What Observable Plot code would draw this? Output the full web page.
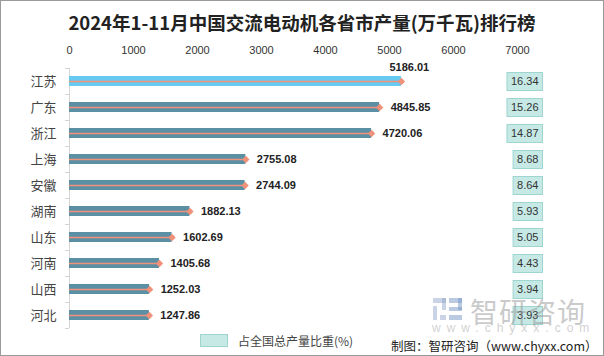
<!DOCTYPE html>
<html>
<head>
<meta charset="utf-8">
<script src="https://cdn.jsdelivr.net/npm/d3@7"></script>
<script src="https://cdn.jsdelivr.net/npm/@observablehq/plot@0.6"></script>
<style>
  html, body { margin: 0; padding: 0; background: #fff; }
  #wrap { position: relative; width: 604px; height: 356px; overflow: hidden; background: #fff; }
  #wrap svg { position: absolute; left: 0; top: 0; }
  .ov { position: absolute; white-space: nowrap; }
  #title { left: 0; width: 604px; top: 9px; text-align: center; font: bold 18.5px "Noto Sans CJK SC", sans-serif; color: #222; }
  #legend { left: 200px; top: 332px; font: 12px "Noto Sans CJK SC", sans-serif; color: #444; display: flex; align-items: center; }
  #legend .sw { width: 26px; height: 11px; background: #C6E9E6; border: 1px solid #9FD5CF; margin-right: 10px; }
  #caption { left: 391px; top: 336px; font: 12.5px "Noto Sans CJK SC", sans-serif; color: #222; }
  #wm1 { left: 470px; top: 291px; font: 28px "Noto Sans CJK SC", sans-serif; color: rgba(150,150,150,0.5); letter-spacing: 1px; }
  #wm2 { left: 432px; top: 321px; font: 12px "Liberation Sans", sans-serif; color: rgba(160,160,160,0.5); letter-spacing: 6px; }
  #logo { left: 433px; top: 298px; width: 30px; height: 22px; }
  #border { left: 0; top: 0; width: 604px; height: 356px; box-sizing: border-box; border: 1px solid #9a9a9a; pointer-events: none; }
</style>
</head>
<body>
<div id="wrap">
  <div id="chart"></div>
  <div class="ov" id="title">2024年1-11月中国交流电动机各省市产量(万千瓦)排行榜</div>
  <div class="ov" id="logo">
    <svg width="30" height="22" viewBox="0 0 30 22">
      <rect x="0" y="0" width="13" height="5" fill="rgba(140,160,200,0.45)"/>
      <rect x="9" y="0" width="4" height="12" fill="rgba(140,160,200,0.45)"/>
      <rect x="0" y="8" width="4" height="14" fill="rgba(140,160,200,0.45)"/>
      <rect x="16" y="0" width="13" height="5" fill="rgba(120,150,200,0.5)"/>
      <rect x="25" y="0" width="4" height="12" fill="rgba(120,150,200,0.5)"/>
      <rect x="16" y="9" width="13" height="4" fill="rgba(120,150,200,0.5)"/>
      <rect x="16" y="17" width="13" height="5" fill="rgba(120,150,200,0.5)"/>
      <rect x="7" y="17" width="6" height="5" fill="rgba(140,160,200,0.45)"/>
    </svg>
  </div>
  <div class="ov" id="wm1">智研咨询</div>
  <div class="ov" id="wm2">www.chyxx.com</div>
  <div class="ov" id="legend"><div class="sw"></div><span>占全国总产量比重(%)</span></div>
  <div class="ov" id="caption">制图：智研咨询（www.chyxx.com）</div>
  <div class="ov" id="border"></div>
</div>
<script>
const provinces = ["江苏","广东","浙江","上海","安徽","湖南","山东","河南","山西","河北"];
const output = [5186.01,4845.85,4720.06,2755.08,2744.09,1882.13,1602.69,1405.68,1252.03,1247.86];
const share = [16.34,15.26,14.87,8.68,8.64,5.93,5.05,4.43,3.94,3.93];
const xTicks = [0,1000,2000,3000,4000,5000,6000,7000];

const rows = provinces.map((p, i) => ({province: p, value: output[i], share: share[i], rank: i}));

const barDark = "#5B8FA4";
const barLight = "#67CBF1";
const lineColor = "#F0917A";

const canvas = document.createElement("canvas");
const ctx2d = canvas.getContext("2d");
ctx2d.font = "11px 'Liberation Sans'";

function boxedText(index, scales, values, dimensions, context, next) {
  const g = next(index, scales, values, dimensions, context);
  const texts = Array.from(g.querySelectorAll("text"));
  for (const t of texts) {
    const m = /translate\(([-\d.]+),\s*([-\d.]+)\)/.exec(t.getAttribute("transform") || "");
    if (!m) continue;
    const tx = +m[1], ty = +m[2];
    const w = ctx2d.measureText(t.textContent).width;
    const r = document.createElementNS("http://www.w3.org/2000/svg", "rect");
    r.setAttribute("x", tx - w - 4);
    r.setAttribute("y", ty - 9);
    r.setAttribute("width", w + 8);
    r.setAttribute("height", 18);
    r.setAttribute("fill", "#C6E9E6");
    r.setAttribute("stroke", "#9FD5CF");
    r.setAttribute("stroke-width", 1);
    g.insertBefore(r, t);
  }
  return g;
}

const chart = Plot.plot({
  width: 604,
  height: 356,
  marginTop: 68,
  marginBottom: 28,
  marginLeft: 69,
  marginRight: 87,
  style: {fontFamily: "'Liberation Sans', sans-serif", fontSize: "11px", color: "#333", background: "transparent"},
  x: {domain: [0, 7000], axis: null},
  y: {domain: provinces, padding: 0, axis: null},
  marks: [
    Plot.axisX({anchor: "top", ticks: xTicks, tickSize: 0, tickPadding: 15, tickFormat: d => String(d), fontSize: 11, fill: "#333", label: null}),
    Plot.axisY({anchor: "left", tickSize: 0, tickPadding: 13, fontSize: 13, fontFamily: "'Noto Sans CJK SC', sans-serif", fill: "#444", label: null}),
    Plot.ruleX([0], {stroke: "#d4d4d4", strokeWidth: 1}),
    Plot.ruleY(rows, {y: "province", x1: 0, x2: 0, insetLeft: -4, dy: -13, stroke: "#d4d4d4"}),
    Plot.ruleY(rows.slice(-1), {y: "province", x1: 0, x2: 0, insetLeft: -4, dy: 13, stroke: "#d4d4d4"}),
    Plot.barX(rows, {y: "province", x: "value", fill: d => d.rank === 0 ? barLight : barDark, insetTop: 8, insetBottom: 8}),
    Plot.ruleY(rows, {y: "province", x1: 0, x2: "value", stroke: lineColor, strokeWidth: 1.3}),
    Plot.dot(rows, {y: "province", x: "value", symbol: "diamond2", r: 3.3, fill: lineColor, stroke: "none"}),
    Plot.text(rows.filter(d => d.rank === 0), {y: "province", x: "value", text: d => d.value.toFixed(2), textAnchor: "start", dx: -12, dy: -14, fontWeight: "bold", fontSize: 11, fill: "#222"}),
    Plot.text(rows.filter(d => d.rank !== 0), {y: "province", x: "value", text: d => d.value.toFixed(2), textAnchor: "start", dx: 11, fontWeight: "bold", fontSize: 11, fill: "#222"}),
    Plot.text(rows, {y: "province", frameAnchor: "right", text: d => d.share.toFixed(2), textAnchor: "end", dx: 21, fontSize: 11, fill: "#333", render: boxedText})
  ]
});
document.getElementById("chart").appendChild(chart);
</script>
</body>
</html>
